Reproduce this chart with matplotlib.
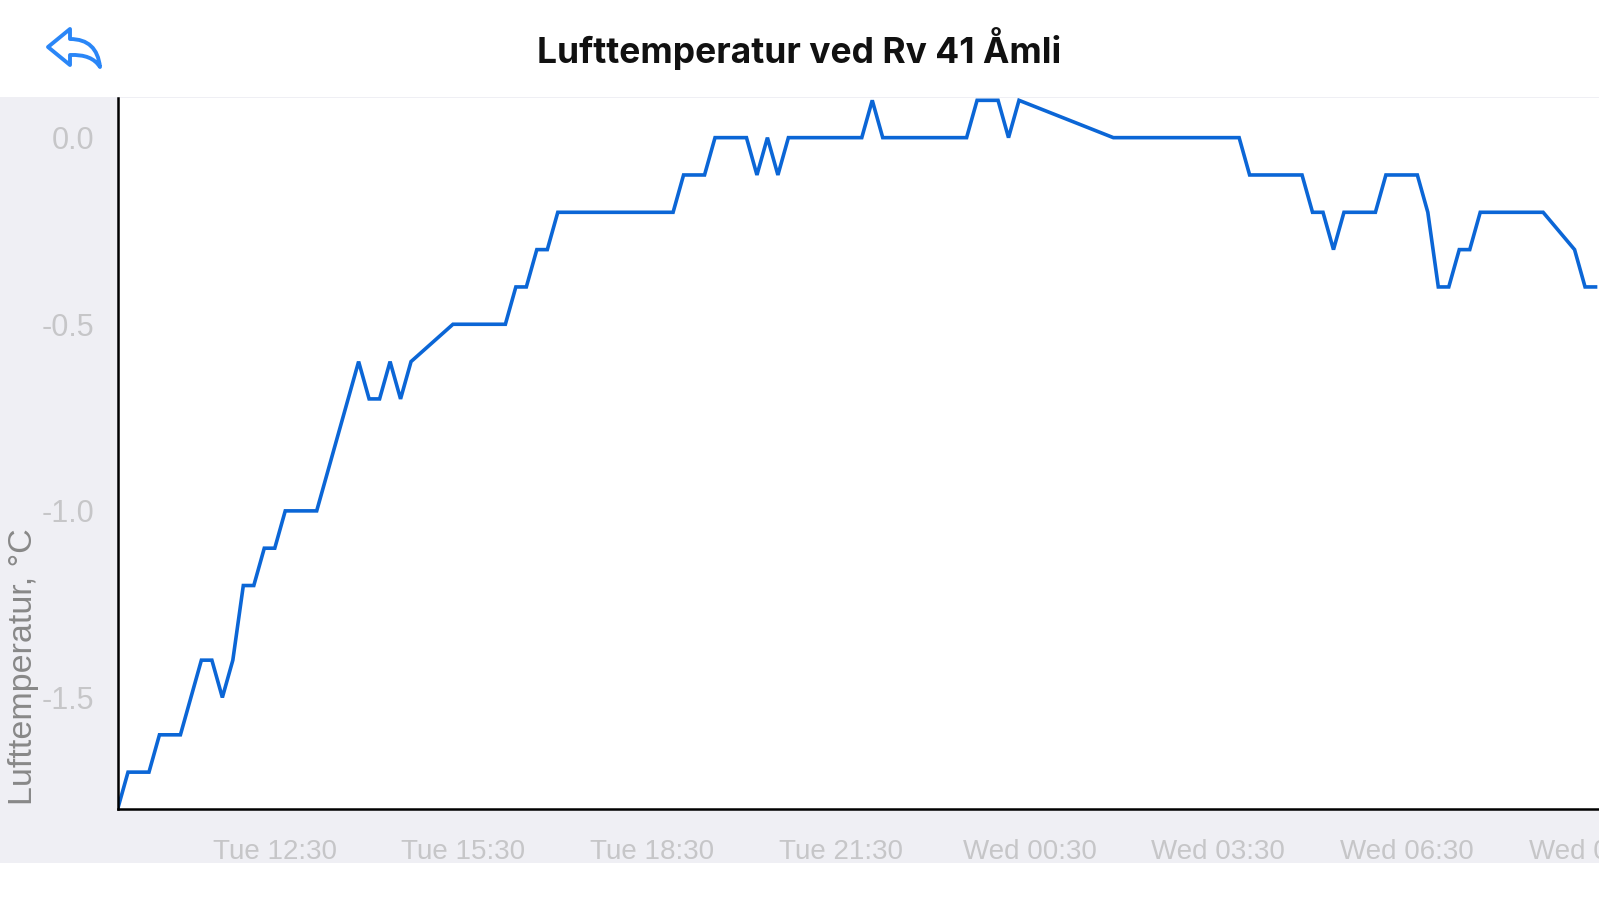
import matplotlib.pyplot as plt
import matplotlib.dates as mdates
from matplotlib.patches import Rectangle, PathPatch
from matplotlib.path import Path
import pandas as pd

plt.rcParams["axes.unicode_minus"] = False

title = "Lufttemperatur ved Rv 41 Åmli"
ylabel = "Lufttemperatur, °C"

# Tue 2024-01-02 -> Wed 2024-01-03
times = [
    "01-02 10:00", "01-02 10:10", "01-02 10:30", "01-02 10:40", "01-02 11:00",
    "01-02 11:20", "01-02 11:30", "01-02 11:40", "01-02 11:50", "01-02 12:00",
    "01-02 12:10", "01-02 12:20", "01-02 12:30", "01-02 12:40", "01-02 13:10",
    "01-02 13:50", "01-02 14:00", "01-02 14:10", "01-02 14:20", "01-02 14:30",
    "01-02 14:40", "01-02 15:20", "01-02 16:10", "01-02 16:20", "01-02 16:30",
    "01-02 16:40", "01-02 16:50", "01-02 17:00", "01-02 18:50", "01-02 19:00",
    "01-02 19:20", "01-02 19:30", "01-02 20:00", "01-02 20:10", "01-02 20:20",
    "01-02 20:30", "01-02 20:40", "01-02 21:50", "01-02 22:00", "01-02 22:10",
    "01-02 23:30", "01-02 23:40", "01-03 00:00", "01-03 00:10", "01-03 00:20",
    "01-03 01:50", "01-03 03:50", "01-03 04:00", "01-03 04:50", "01-03 05:00",
    "01-03 05:10", "01-03 05:20", "01-03 05:30", "01-03 06:00", "01-03 06:10",
    "01-03 06:40", "01-03 06:50", "01-03 07:00", "01-03 07:10", "01-03 07:20",
    "01-03 07:30", "01-03 07:40", "01-03 08:40", "01-03 09:10", "01-03 09:20",
    "01-03 09:30",
]
temps = [
    -1.8, -1.7, -1.7, -1.6, -1.6,
    -1.4, -1.4, -1.5, -1.4, -1.2,
    -1.2, -1.1, -1.1, -1.0, -1.0,
    -0.6, -0.7, -0.7, -0.6, -0.7,
    -0.6, -0.5, -0.5, -0.4, -0.4,
    -0.3, -0.3, -0.2, -0.2, -0.1,
    -0.1, 0.0, 0.0, -0.1, 0.0,
    -0.1, 0.0, 0.0, 0.1, 0.0,
    0.0, 0.1, 0.1, 0.0, 0.1,
    0.0, 0.0, -0.1, -0.1, -0.2,
    -0.2, -0.3, -0.2, -0.2, -0.1,
    -0.1, -0.2, -0.4, -0.4, -0.3,
    -0.3, -0.2, -0.2, -0.3, -0.4,
    -0.4,
]
yticks = [0.0, -0.5, -1.0, -1.5]
xtick_start = "2024-01-02 12:30"

t = pd.to_datetime(["2024-" + s for s in times])

fig = plt.figure(figsize=(15.99, 9), dpi=100, facecolor="white")

# grey grouped background behind the chart
fig.patches.append(Rectangle((0, 1 - 863 / 900), 1, (863 - 97) / 900,
                             transform=fig.transFigure, facecolor="#efeff4",
                             edgecolor="none", zorder=-10))

ax = fig.add_axes([0.0735, 0.1006, 0.944, 0.79])
ax.set_facecolor("white")
ax.plot(t, temps, color="#0b66d6", lw=2.6, solid_joinstyle="miter")

ax.set_xlim(t[0], t[0] + pd.Timedelta(minutes=1440))
ax.set_ylim(-1.8, 0.105)

ax.set_yticks(yticks)
ax.set_yticklabels([f"{v:.1f}" for v in yticks])
ax.set_xticks(pd.date_range(xtick_start, periods=8, freq="3h"))
ax.xaxis.set_major_formatter(mdates.DateFormatter("%a %H:%M"))

for s in ["top", "right"]:
    ax.spines[s].set_visible(False)
for s in ["left", "bottom"]:
    ax.spines[s].set_linewidth(1.8)
    ax.spines[s].set_color("black")

ax.tick_params(axis="both", length=0, colors="#c6c6c8", labelsize=20)
ax.tick_params(axis="y", pad=17, labelsize=22)
ax.tick_params(axis="x", pad=21)
for lab in ax.get_xticklabels() + ax.get_yticklabels():
    lab.set_fontfamily("Liberation Sans")

fig.text(24 / 1599, 1 - 805 / 900, ylabel, rotation=90, ha="center",
         va="bottom", color="#888888", fontsize=24.5, family="Liberation Sans")

fig.text(0.5, 1 - 49 / 900, title, ha="center", va="center",
         fontsize=25.5, fontweight="bold", family="Inter", color="#111111")

# back (reply) icon
pts = [(48, 47), (70, 29), (70, 39), (97, 39), (100, 67),
       (92, 54), (70, 55), (70, 65), (48, 47)]
codes = [Path.MOVETO, Path.LINETO, Path.LINETO, Path.CURVE3, Path.CURVE3,
         Path.CURVE3, Path.CURVE3, Path.LINETO, Path.CLOSEPOLY]
icon = Path([(x / 1599, 1 - y / 900) for x, y in pts], codes)
fig.patches.append(PathPatch(icon, transform=fig.transFigure, facecolor="none",
                             edgecolor="#2a86f7", lw=2.8, joinstyle="round"))

fig.savefig("out.png", dpi=100)
